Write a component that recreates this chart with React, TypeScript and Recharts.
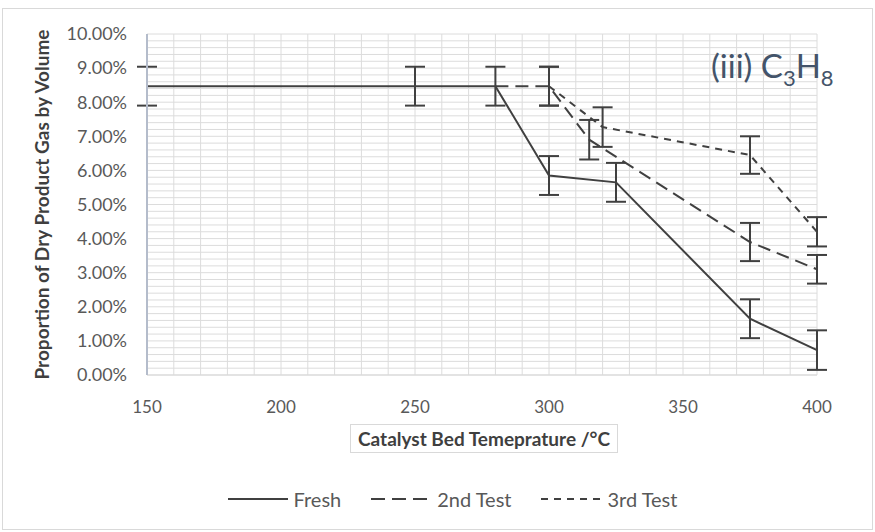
import React from 'react'
import { LineChart, Line, XAxis, YAxis, CartesianGrid, ErrorBar, Label } from 'recharts'

// temperatures (°C) and measured proportion (%) with error (+/- %)
const freshTemp = [150, 250, 280, 300, 325, 375, 400]
const freshVal = [8.47, 8.47, 8.47, 5.85, 5.65, 1.65, 0.73]
const freshErr = [0.57, 0.57, 0.57, 0.57, 0.57, 0.57, 0.58]

const secondTemp = [280, 300, 315, 375, 400]
const secondVal = [8.47, 8.47, 6.9, 3.9, 3.1]
const secondErr = [0, 0.57, 0.58, 0.56, 0.42]

const thirdTemp = [300, 320, 375, 400]
const thirdVal = [8.47, 7.27, 6.45, 4.2]
const thirdErr = [0.57, 0.58, 0.55, 0.43]

const xDomain = [150, 400]
const yDomain = [0, 10]
const xTicks = [150, 200, 250, 300, 350, 400]
const yTicks = [0, 1, 2, 3, 4, 5, 6, 7, 8, 9, 10]

// minor gridlines: every 10 °C and every 0.2 %
const xMinor = Array.from({ length: 26 }, (_, i) => 150 + i * 10)
const yMinor = Array.from({ length: 51 }, (_, i) => +(i * 0.2).toFixed(1))

const toRows = (t: number[], v: number[], e: number[]) =>
  t.map((x, i) => ({ x, y: v[i], err: e[i] }))

const fresh = toRows(freshTemp, freshVal, freshErr)
const second = toRows(secondTemp, secondVal, secondErr)
const third = toRows(thirdTemp, thirdVal, thirdErr)

const INK = '#404040'
const TEXT = '#595959'
const FONT = 'Lato, "Open Sans", sans-serif'

const legendItems = [
  { name: 'Fresh', dash: undefined },
  { name: '2nd Test', dash: '14 7' },
  { name: '3rd Test', dash: '7 6' },
]

const gridY = ({ yAxis, offset }: any) => {
  if (yAxis && typeof yAxis.scale === 'function') return yMinor.map((v) => yAxis.scale(v))
  return yMinor.map((v) => offset.top + offset.height * (1 - (v - yDomain[0]) / (yDomain[1] - yDomain[0])))
}

const gridX = ({ xAxis, offset }: any) => {
  if (xAxis && typeof xAxis.scale === 'function') return xMinor.map((v) => xAxis.scale(v))
  return xMinor.map((v) => offset.left + (offset.width * (v - xDomain[0])) / (xDomain[1] - xDomain[0]))
}

export default function App() {
  return (
    <div style={{ position: 'absolute', left: 0, top: 0, width: 875, height: 532, background: '#fff', fontFamily: FONT }}>
      <div style={{ position: 'absolute', left: 2, top: 8, width: 871, height: 522, border: '1px solid #d9d9d9', boxSizing: 'border-box' }} />
      <LineChart width={875} height={532} margin={{ top: 34, right: 58, bottom: 127, left: 87 }}>
        <CartesianGrid stroke="#dcdcdc" strokeWidth={1} horizontalCoordinatesGenerator={gridY} verticalCoordinatesGenerator={gridX} />
        <XAxis
          type="number"
          dataKey="x"
          domain={xDomain}
          ticks={xTicks}
          height={30}
          allowDuplicatedCategory={false}
          tickLine={false}
          axisLine={{ stroke: '#d9d9d9' }}
          tickMargin={20}
          tick={{ fill: TEXT, fontSize: 17, fontFamily: FONT }}
        />
        <YAxis
          type="number"
          domain={yDomain}
          ticks={yTicks}
          width={60}
          tickLine={false}
          axisLine={{ stroke: '#b4bccb', strokeWidth: 2 }}
          tickMargin={14}
          tickFormatter={(v: number) => `${v.toFixed(2)}%`}
          tick={{ fill: TEXT, fontSize: 18, fontFamily: FONT }}
        >
          <Label
            value="Proportion of Dry Product Gas by Volume"
            angle={-90}
            position="insideLeft"
            offset={-45}
            style={{ textAnchor: 'middle', fill: '#3f3f3f', fontSize: 19, fontWeight: 700, fontFamily: FONT }}
          />
        </YAxis>
        <Line data={fresh} dataKey="y" name="Fresh" stroke={INK} strokeWidth={2} dot={false} isAnimationActive={false}>
          <ErrorBar dataKey="err" width={10} stroke={INK} strokeWidth={2} direction="y" />
        </Line>
        <Line data={second} dataKey="y" name="2nd Test" stroke={INK} strokeWidth={2} strokeDasharray="13 7" dot={false} isAnimationActive={false}>
          <ErrorBar dataKey="err" width={10} stroke={INK} strokeWidth={2} direction="y" />
        </Line>
        <Line data={third} dataKey="y" name="3rd Test" stroke={INK} strokeWidth={2} strokeDasharray="7 6" dot={false} isAnimationActive={false}>
          <ErrorBar dataKey="err" width={10} stroke={INK} strokeWidth={2} direction="y" />
        </Line>
      </LineChart>
      <div style={{ position: 'absolute', left: 350, top: 424, padding: '2px 7px', border: '1px solid #d9d9d9', fontSize: 19, fontWeight: 700, color: '#3f3f3f', whiteSpace: 'nowrap' }}>
        Catalyst Bed Temeprature /°C
      </div>
      <div style={{ position: 'absolute', left: 711, top: 45, fontSize: 33, color: '#44546a', whiteSpace: 'nowrap' }}>
        (iii) C<sub style={{ fontSize: 22 }}>3</sub>H<sub style={{ fontSize: 22 }}>8</sub>
      </div>
      <div style={{ position: 'absolute', left: 0, top: 487, width: 905, display: 'flex', justifyContent: 'center', gap: 30, fontSize: 20, color: TEXT }}>
        {legendItems.map((it) => (
          <div key={it.name} style={{ display: 'flex', alignItems: 'center', gap: 6 }}>
            <svg width={60} height={10}>
              <line x1={0} y1={5} x2={60} y2={5} stroke={INK} strokeWidth={2} strokeDasharray={it.dash} />
            </svg>
            <span>{it.name}</span>
          </div>
        ))}
      </div>
    </div>
  )
}
